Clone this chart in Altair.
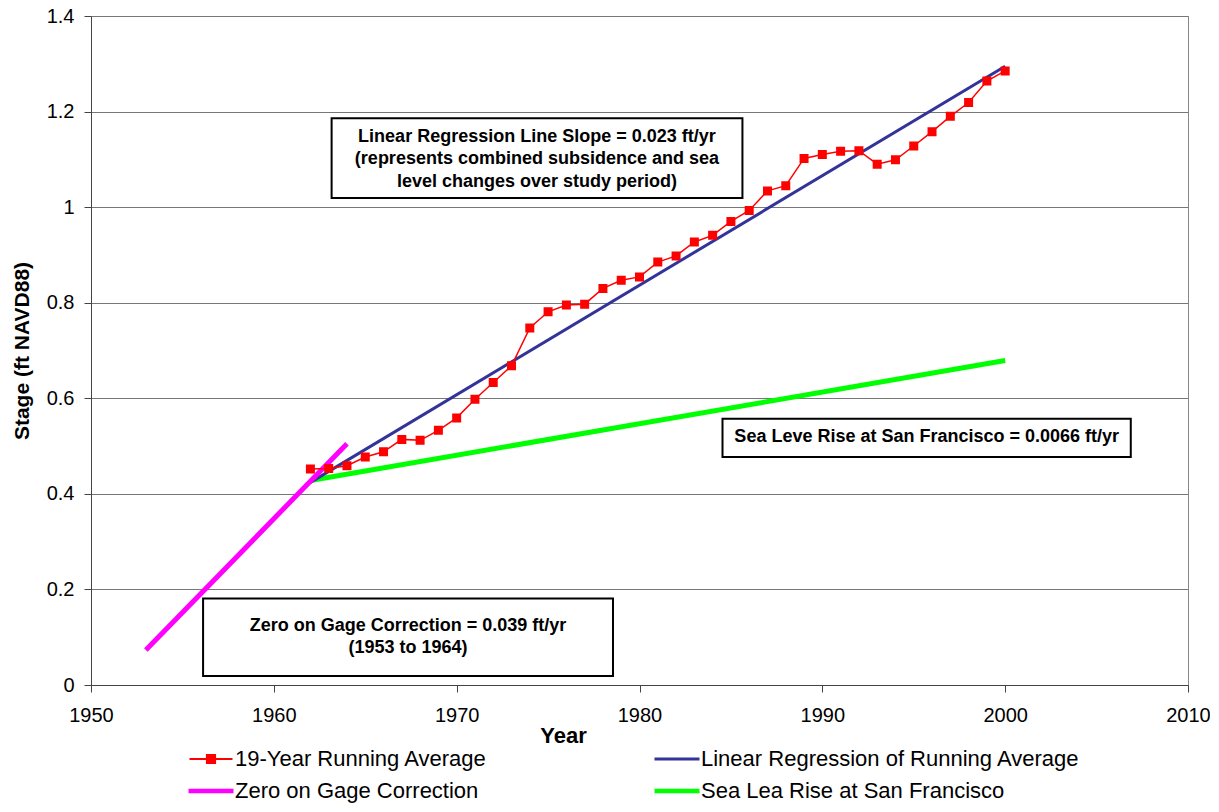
import altair as alt
import pandas as pd

# ---------------- data ----------------
years = list(range(1962, 2001))
running_avg = [0.452, 0.453, 0.459, 0.477, 0.488, 0.514, 0.512, 0.533, 0.559, 0.598,
               0.633, 0.668, 0.747, 0.781, 0.795, 0.797, 0.830, 0.847, 0.854, 0.885,
               0.898, 0.927, 0.941, 0.970, 0.993, 1.034, 1.045, 1.102, 1.110, 1.117,
               1.118, 1.090, 1.099, 1.128, 1.158, 1.190, 1.219, 1.264, 1.285]

reg_years = [1962, 2000]
reg_vals = [0.424, 1.295]

gage_years = [1953, 1964]
gage_vals = [0.073, 0.505]

slr_years = [1962, 2000]
slr_vals = [0.428, 0.679]

# legend order (filled column by column): col 1 = first two, col 2 = last two
series_names = ["19-Year Running Average",
                "Zero on Gage Correction",
                "Linear Regression of Running Average",
                "Sea Lea Rise at San Francisco"]
series_colors = ["#FF0000", "#FF00FF", "#333399", "#00FF00"]

note_texts = ["Linear Regression Line Slope = 0.023 ft/yr\n(represents combined subsidence and sea\nlevel changes over study period)",
              "Sea Leve Rise at San Francisco = 0.0066 ft/yr",
              "Zero on Gage Correction = 0.039 ft/yr\n(1953 to 1964)"]
note_x = [1974.39, 1995.71, 1967.34]
note_y = [1.147, 0.518, 0.124]
box_x1 = [1963.16, 1984.54, 1956.13]
box_x2 = [1985.63, 2006.87, 1978.55]
box_y1 = [1.186, 0.557, 0.181]
box_y2 = [1.019, 0.477, 0.019]

x_ticks = [1950, 1960, 1970, 1980, 1990, 2000, 2010]
y_ticks = [0, 0.2, 0.4, 0.6, 0.8, 1.0, 1.2, 1.4]

# ---------------- tables ----------------
avg_df = pd.DataFrame({"year": years, "value": running_avg, "series": series_names[0]})
gage_df = pd.DataFrame({"year": gage_years, "value": gage_vals, "series": series_names[1]})
reg_df = pd.DataFrame({"year": reg_years, "value": reg_vals, "series": series_names[2]})
slr_df = pd.DataFrame({"year": slr_years, "value": slr_vals, "series": series_names[3]})
notes_df = pd.DataFrame({"text": note_texts, "x": note_x, "y": note_y,
                         "x1": box_x1, "x2": box_x2, "y1": box_y1, "y2": box_y2})

FONT = "Liberation Sans"

x_scale = alt.Scale(domain=[1950, 2010], nice=False, zero=False)
y_scale = alt.Scale(domain=[0, 1.4], nice=False)

x_enc = alt.X("year:Q", scale=x_scale, title="Year",
              axis=alt.Axis(values=x_ticks, format="d", grid=False, tickSize=7,
                            labelPadding=13, titlePadding=0, labelFlush=False,
                            titleX=472))
y_enc = alt.Y("value:Q", scale=y_scale, title="Stage (ft NAVD88)",
              axis=alt.Axis(values=y_ticks, format="~g", grid=True, tickSize=7,
                            labelPadding=10, titlePadding=14, labelFlush=False,
                            titleFontSize=21))

# legend symbols: line (with square for the running average)
SYM_SQ = "M-2,0L2,0M-0.38,-0.38L0.38,-0.38L0.38,0.38L-0.38,0.38Z"
SYM_THIN = "M-2,-0.05L2,-0.05L2,0.05L-2,0.05Z"
SYM_THICK = "M-2,-0.12L2,-0.12L2,0.12L-2,0.12Z"
shape_range = [SYM_SQ, SYM_THICK, SYM_THIN, SYM_THICK]

legend_def = alt.Legend(
    title=None, orient="none", legendX=108, legendY=731, columns=2,
    columnPadding=164, rowPadding=9, labelFontSize=22, labelFont=FONT,
    labelLimit=0, labelOffset=12, symbolSize=462, symbolStrokeWidth=2, padding=0,
)

color_enc = alt.Color("series:N",
                      scale=alt.Scale(domain=series_names, range=series_colors),
                      legend=legend_def)
shape_enc = alt.Shape("series:N",
                      scale=alt.Scale(domain=series_names, range=shape_range),
                      legend=legend_def)

slr_line = alt.Chart(slr_df).mark_line(strokeWidth=5).encode(x=x_enc, y=y_enc, color=color_enc)
reg_line = alt.Chart(reg_df).mark_line(strokeWidth=3).encode(x=x_enc, y=y_enc, color=color_enc)
gage_line = alt.Chart(gage_df).mark_line(strokeWidth=5).encode(x=x_enc, y=y_enc, color=color_enc)
avg_line = alt.Chart(avg_df).mark_line(strokeWidth=1.5).encode(x=x_enc, y=y_enc, color=color_enc)
avg_pts = alt.Chart(avg_df).mark_point(size=561, filled=True, opacity=1, strokeWidth=0).encode(
    x=x_enc, y=y_enc, color=color_enc, shape=shape_enc)

boxes = alt.Chart(notes_df).mark_rect(fill="white", stroke="black", strokeWidth=2).encode(
    x="x1:Q", x2="x2:Q", y="y1:Q", y2="y2:Q")
texts = alt.Chart(notes_df).mark_text(
    font=FONT, fontSize=18, fontWeight="bold", color="black", lineBreak="\n",
    lineHeight=22.5, align="center", baseline="middle").encode(
    x="x:Q", y="y:Q", text="text:N")

chart = alt.layer(slr_line, reg_line, gage_line, avg_line, avg_pts, boxes, texts).properties(
    width=1097, height=669, autosize="none",
    padding={"left": 83, "top": 8, "right": 22, "bottom": 119},
).configure_view(stroke="#888888", strokeWidth=1).configure_axis(
    labelFont=FONT, labelFontSize=20, labelColor="black",
    titleFont=FONT, titleFontSize=22, titleFontWeight="bold", titleColor="black",
    domainColor="#444444", tickColor="#444444", gridColor="#777777", gridWidth=1,
)

chart.save("out.html", embed_options={"renderer": "svg", "actions": False})
